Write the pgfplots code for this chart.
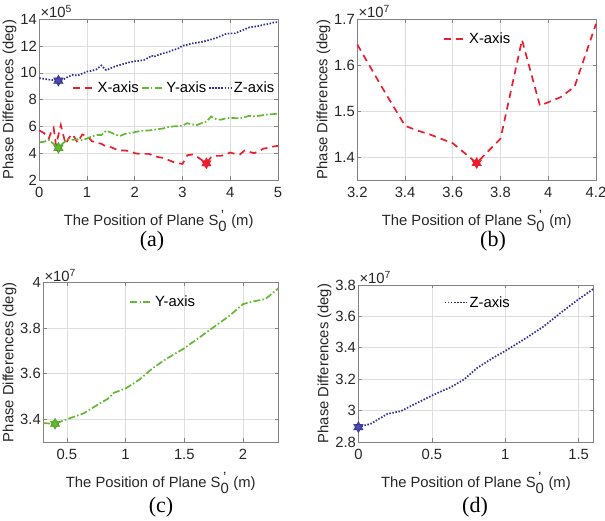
\documentclass[border=0pt]{standalone}
\usepackage{pgfplots}
\pgfplotsset{compat=1.18}
\usepackage{fontspec}
\setmainfont{Liberation Sans}
\newfontfamily\capfont{Liberation Serif}
\definecolor{cred}{RGB}{235,30,45}
\definecolor{cgreen}{RGB}{100,185,50}
\definecolor{cblue}{RGB}{45,45,150}
\definecolor{gridc}{RGB}{222,222,222}
\definecolor{axc}{RGB}{130,130,130}
\pgfdeclareplotmark{hexagram}{%
  \pgfpathmoveto{\pgfqpointpolar{90}{\pgfplotmarksize}}%
  \pgfpathlineto{\pgfqpointpolar{210}{\pgfplotmarksize}}%
  \pgfpathlineto{\pgfqpointpolar{330}{\pgfplotmarksize}}%
  \pgfpathclose
  \pgfpathmoveto{\pgfqpointpolar{270}{\pgfplotmarksize}}%
  \pgfpathlineto{\pgfqpointpolar{30}{\pgfplotmarksize}}%
  \pgfpathlineto{\pgfqpointpolar{150}{\pgfplotmarksize}}%
  \pgfpathclose
  \pgfusepathqfillstroke}
\pgfplotsset{
  every axis/.append style={font=\fontsize{14.8}{17}\selectfont},
  myax/.style={
    scale only axis, anchor=south west, clip=false,
    /pgf/number format/assume math mode=true,
    grid=major, grid style={gridc, line width=0.6pt},
    axis line style={axc, line width=0.7pt},
    tick style={axc, line width=0.6pt}, tick align=inside, major tick length=3.5pt,
    ticklabel style={text=black!85},
    xticklabel style={yshift=-4pt},
    yticklabel style={xshift=1pt},
    xlabel={The Position of Plane S$^{\textnormal{\,'}}_{\textnormal{0}}$ (m)},
    ylabel={Phase Differences (deg)},
    label style={text=black!85},
    xlabel style={yshift=-5pt},
    ylabel style={yshift=-3pt},
    legend style={draw=none, fill=none, legend columns=-1, font=\fontsize{14.8}{17}\selectfont},
    every axis legend/.append style={inner sep=0pt},
  },
  xs/.style={cred, line width=1.7pt, dash pattern=on 7pt off 5pt},
  ys/.style={cgreen, line width=1.7pt, dash pattern=on 7pt off 2.2pt on 1.6pt off 2.2pt},
  zs/.style={cblue, line width=1.7pt, dash pattern=on 1.5pt off 1.6pt},
  hx/.style={only marks, mark=hexagram, mark size=5.5pt, forget plot},
}
\begin{document}
\begin{tikzpicture}
\useasboundingbox (0,0) rectangle (605pt,521pt);
% (a)
\begin{axis}[myax, at={(39.3pt,341pt)}, width=238.7pt, height=160.7pt,
  xmin=0, xmax=5, ymin=2, ymax=14, xtick={0,1,2,3,4,5}, ytick={2,4,6,8,10,12,14},
  legend style={at={(0.136,0.571)}, anchor=west},
  legend image code/.code={\draw[#1] (0pt,0pt) -- (22pt,0pt);}]
\addplot[xs] coordinates {(0,5.7)(0.1,5.5)(0.2,5.1)(0.25,5.6)(0.3,5.9)(0.35,4.6)(0.45,6.1)(0.55,4.7)(0.65,5.3)(0.7,5.4)(0.8,4.8)(0.9,5.4)(1.0,5.3)(1.1,4.9)(1.2,4.8)(1.3,4.7)(1.4,4.5)(1.5,4.45)(1.6,4.3)(1.7,4.2)(1.8,4.2)(1.9,4.15)(2.0,4.0)(2.1,3.95)(2.2,3.95)(2.3,3.95)(2.4,3.8)(2.5,3.7)(2.6,3.65)(2.7,3.5)(2.8,3.35)(2.9,3.25)(3.0,3.2)(3.1,3.85)(3.2,3.9)(3.3,3.75)(3.4,3.5)(3.5,3.25)(3.6,3.7)(3.7,3.8)(3.8,3.8)(3.9,3.9)(4.0,4.05)(4.1,3.95)(4.2,3.9)(4.3,4.2)(4.4,4.1)(4.5,4.0)(4.6,4.15)(4.7,4.35)(4.8,4.4)(4.9,4.5)(5.0,4.55)};
\addlegendentry{X-axis}
\addplot[ys] coordinates {(0,4.82)(0.1,4.85)(0.2,5.0)(0.3,4.7)(0.4,4.4)(0.5,4.75)(0.6,5.04)(0.7,5.0)(0.8,5.04)(0.9,4.98)(1.0,5.1)(1.1,5.25)(1.2,5.37)(1.3,5.35)(1.4,5.67)(1.5,5.55)(1.6,5.37)(1.7,5.3)(1.8,5.45)(1.9,5.5)(2.0,5.57)(2.1,5.65)(2.2,5.7)(2.3,5.7)(2.4,5.75)(2.5,5.8)(2.6,5.85)(2.7,5.95)(2.8,6.0)(2.9,6.02)(3.0,6.06)(3.1,6.24)(3.2,6.15)(3.3,6.1)(3.4,6.25)(3.5,6.36)(3.6,6.74)(3.7,6.55)(3.8,6.5)(3.9,6.6)(4.0,6.64)(4.1,6.62)(4.2,6.6)(4.3,6.7)(4.4,6.79)(4.5,6.75)(4.6,6.79)(4.7,6.85)(4.8,6.9)(4.9,6.92)(5.0,6.96)};
\addlegendentry{Y-axis}
\addplot[zs] coordinates {(0,9.6)(0.1,9.55)(0.2,9.5)(0.3,9.45)(0.4,9.42)(0.5,9.5)(0.6,9.7)(0.7,9.85)(0.8,9.8)(0.9,9.95)(1.0,10.1)(1.1,10.15)(1.2,10.27)(1.3,10.55)(1.4,10.2)(1.5,10.35)(1.6,10.5)(1.7,10.6)(1.8,10.7)(1.9,10.8)(2.0,10.87)(2.1,10.9)(2.2,10.97)(2.3,11.15)(2.35,11.3)(2.4,11.2)(2.5,11.35)(2.6,11.46)(2.7,11.55)(2.8,11.7)(2.9,11.8)(3.0,12.03)(3.1,12.1)(3.2,12.2)(3.3,12.25)(3.4,12.3)(3.5,12.4)(3.6,12.5)(3.7,12.6)(3.8,12.75)(3.9,12.9)(4.0,12.95)(4.1,12.95)(4.2,13.1)(4.3,13.25)(4.4,13.4)(4.5,13.45)(4.6,13.5)(4.7,13.6)(4.8,13.65)(4.9,13.75)(5.0,13.8)};
\addlegendentry{Z-axis}
\addplot[hx, draw=cred, fill=cred] coordinates {(3.5,3.25)};
\addplot[hx, draw=cgreen!80!black, fill=cgreen] coordinates {(0.4,4.4)};
\addplot[hx, draw=cblue, fill=cblue!85] coordinates {(0.4,9.42)};
\node[anchor=south west, inner sep=1pt, text=black!85] at (rel axis cs:0,1) {×10\textsuperscript{5}};
\end{axis}
% (b)
\begin{axis}[myax, at={(357.3pt,341pt)}, width=238.7pt, height=160.7pt,
  xmin=3.2, xmax=4.2, ymin=1.35, ymax=1.7, xtick={3.2,3.4,3.6,3.8,4,4.2}, ytick={1.4,1.5,1.6,1.7},
  yticklabel style={/pgf/number format/.cd, fixed, precision=1, fixed zerofill},
  legend style={at={(0.36,0.876)}, anchor=west},
  legend image code/.code={\draw[#1] (0pt,0pt) -- (22pt,0pt);}]
\addplot[xs] coordinates {(3.2,1.645)(3.3,1.555)(3.4,1.468)(3.45,1.458)(3.5,1.45)(3.6,1.43)(3.7,1.387)(3.8,1.44)(3.89,1.655)(3.965,1.512)(4.05,1.53)(4.11,1.553)(4.2,1.69)};
\addlegendentry{X-axis}
\addplot[hx, draw=cred, fill=cred] coordinates {(3.7,1.387)};
\node[anchor=south west, inner sep=1pt, text=black!85] at (rel axis cs:0,1) {×10\textsuperscript{7}};
\end{axis}
% (c)
\begin{axis}[myax, at={(43.3pt,79pt)}, width=235pt, height=159.3pt,
  xmin=0.3, xmax=2.3, ymin=3.3, ymax=4.0, xtick={0.5,1,1.5,2}, ytick={3.4,3.6,3.8,4},
  legend style={at={(0.366,0.877)}, anchor=west},
  legend image code/.code={\draw[#1] (0pt,0pt) -- (22pt,0pt);}]
\addplot[ys] coordinates {(0.3,3.383)(0.4,3.38)(0.5,3.4)(0.64,3.425)(0.78,3.469)(0.85,3.49)(0.9,3.516)(1.0,3.535)(1.12,3.575)(1.23,3.624)(1.34,3.663)(1.5,3.712)(1.63,3.76)(1.77,3.812)(1.88,3.853)(2.0,3.906)(2.08,3.917)(2.19,3.928)(2.3,3.975)};
\addlegendentry{Y-axis}
\addplot[hx, draw=cgreen!80!black, fill=cgreen] coordinates {(0.4,3.38)};
\node[anchor=south west, inner sep=1pt, text=black!85] at (rel axis cs:0,1) {×10\textsuperscript{7}};
\end{axis}
% (d)
\begin{axis}[myax, at={(358.4pt,79pt)}, width=234.9pt, height=157pt,
  xmin=0, xmax=1.6, ymin=2.8, ymax=3.8, xtick={0,0.5,1,1.5}, ytick={2.8,3,3.2,3.4,3.6,3.8},
  legend style={at={(0.363,0.888)}, anchor=west},
  legend image code/.code={\draw[#1] (0pt,0pt) -- (22pt,0pt);}]
\addplot[zs] coordinates {(0,2.895)(0.084,2.916)(0.197,2.979)(0.287,2.996)(0.40,3.049)(0.514,3.102)(0.627,3.148)(0.717,3.197)(0.808,3.271)(0.921,3.338)(1.011,3.386)(1.147,3.465)(1.26,3.535)(1.373,3.619)(1.486,3.7)(1.6,3.775)};
\addlegendentry{Z-axis}
\addplot[hx, draw=cblue, fill=cblue!85] coordinates {(0,2.895)};
\node[anchor=south west, inner sep=1pt, text=black!85] at (rel axis cs:0,1) {×10\textsuperscript{7}};
\end{axis}
\node[font=\capfont\fontsize{22}{24}\selectfont] at (152pt,280pt) {(a)};
\node[font=\capfont\fontsize{22}{24}\selectfont] at (493pt,280pt) {(b)};
\node[font=\capfont\fontsize{22}{24}\selectfont] at (161pt,14pt) {(c)};
\node[font=\capfont\fontsize{22}{24}\selectfont] at (475pt,14pt) {(d)};
\end{tikzpicture}
\end{document}
